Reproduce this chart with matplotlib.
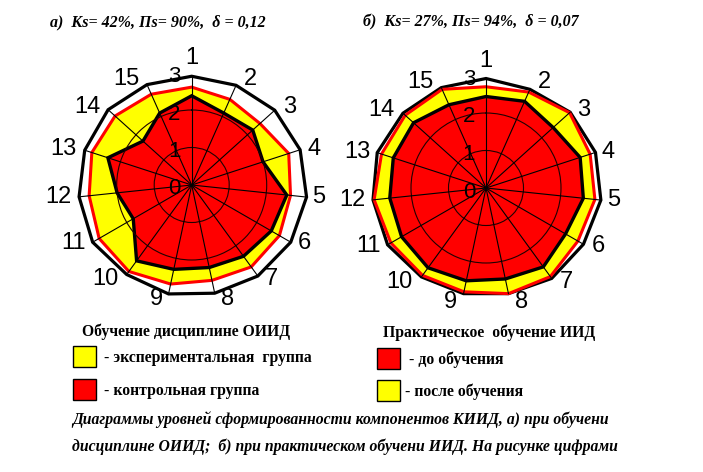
import numpy as np
import matplotlib.pyplot as plt
from matplotlib.patches import Rectangle
from matplotlib.transforms import offset_copy

# components 1..15, values are levels on the 0..3 scale
categories = [str(i) for i in range(1, 16)]
rings = [0, 1, 2, 3]

a_outer = [2.9, 2.91, 2.98, 3.04, 3.08, 3.05, 3.0, 2.95, 2.97, 2.95, 3.05, 3.02, 3.0, 3.0, 2.93]
a_exp = [2.61, 2.5, 2.45, 2.72, 2.65, 2.7, 2.7, 2.6, 2.7, 2.85, 2.85, 2.75, 2.8, 2.75, 2.65]
a_ctrl = [2.38, 2.1, 2.19, 2.0, 2.55, 2.45, 2.35, 2.25, 2.3, 2.5, 1.8, 2.0, 2.35, 1.75, 2.1]

b_outer = [2.92, 2.88, 3.02, 3.07, 3.08, 3.0, 2.98, 2.88, 2.88, 2.93, 3.03, 3.03, 3.05, 2.98, 2.93]
b_after = [2.7, 2.8, 3.0, 2.92, 2.92, 2.83, 2.92, 2.88, 2.83, 2.88, 2.93, 3.0, 2.93, 2.9, 2.88]
b_before = [2.44, 2.53, 2.41, 2.64, 2.61, 2.45, 2.6, 2.48, 2.53, 2.63, 2.6, 2.58, 2.6, 2.6, 2.43]

title_a = "а)  Кs= 42%, Пs= 90%,  δ = 0,12"
title_b = "б)  Кs= 27%, Пs= 94%,  δ = 0,07"

W, H = 703, 472
UNIT = 37.5  # pixels per scale unit
RMAX = 3.2
LAB_R = 3.1  # where the component numbers are anchored

fig = plt.figure(figsize=(W / 100, H / 100), dpi=100)
fig.patch.set_facecolor('white')


def px_rect(cx, cy, R):
    return [(cx - R) / W, (H - cy - R) / H, 2 * R / W, 2 * R / H]


def radar(cx, cy, outer, top, bottom):
    ax = fig.add_axes(px_rect(cx, cy, RMAX * UNIT), projection='polar')
    ax.set_theta_zero_location('N')
    ax.set_theta_direction(-1)
    ax.set_ylim(0, RMAX)
    ax.spines['polar'].set_visible(False)
    ax.patch.set_visible(False)
    theta = np.arange(len(categories)) * 2 * np.pi / len(categories)
    tc = np.append(theta, theta[0])

    def closed(v):
        return np.append(v, v[0])

    ax.fill(tc, closed(outer), facecolor='white', edgecolor='black', lw=2.3, zorder=1)
    ax.fill(tc, closed(top), facecolor='#ffff00', edgecolor='#ff0000', lw=2.2, zorder=1.1)
    ax.fill(tc, closed(bottom), facecolor='#ff0000', edgecolor='black', lw=2.4, zorder=1.2)

    ax.set_xticks([])
    ax.set_yticks([1, 2])
    ax.set_yticklabels([])
    ax.yaxis.grid(True, color='#200000', lw=0.8)
    for g in ax.yaxis.get_gridlines():
        g.set_zorder(1.5)

    for t, r in zip(theta, outer):
        ax.plot([t, t], [0, r], color='black', lw=0.8, zorder=1.6)

    for t, lab in zip(theta, categories):
        s = np.sin(t)
        ha = 'left' if s > 0.1 else ('right' if s < -0.1 else 'center')
        va = 'bottom' if abs(t) < 0.01 else 'center'
        tr = offset_copy(ax.transData, fig=fig, x=5 * np.sign(round(s, 1)),
                         y=0, units='dots')
        ax.text(t, LAB_R, lab, transform=tr, ha=ha, va=va, fontsize=17,
                family='Liberation Sans', clip_on=False)

    tr = offset_copy(ax.transData, fig=fig, x=-11, y=-4, units='dots')
    for r in rings:
        ax.text(0, r, str(r), transform=tr, ha='right', va='center',
                fontsize=16, family='Liberation Sans', zorder=3, clip_on=False)
    return ax


radar(191.7, 185, a_outer, a_exp, a_ctrl)
radar(486, 188, b_outer, b_after, b_before)


def ftext(x, y, s, **kw):
    fig.text(x / W, 1 - y / H, s, va='center', family='Liberation Serif', **kw)


ftext(50, 22, title_a, fontsize=11.5, weight='bold', style='italic')
ftext(363, 22, title_b, fontsize=11.5, weight='bold', style='italic')

# legend, left block
ftext(82, 332, "Обучение дисциплине ОИИД", fontsize=11.3, weight='bold')
ftext(104, 358, "- экспериментальная  группа", fontsize=11.3, weight='bold')
ftext(104, 391, "- контрольная группа", fontsize=11.3, weight='bold')
# legend, right block
ftext(383, 333, "Практическое  обучение ИИД", fontsize=11.3, weight='bold')
ftext(409, 360, "- до обучения", fontsize=11.3, weight='bold')
ftext(405, 392, "- после обучения", fontsize=11.3, weight='bold')

for x0, y0, c in [(73, 346, '#ffff00'), (73, 379, '#ff0000'),
                  (377, 348, '#ff0000'), (377, 380, '#ffff00')]:
    fig.patches.append(Rectangle((x0 / W, 1 - (y0 + 21) / H), 23 / W, 21 / H,
                                 transform=fig.transFigure, facecolor=c,
                                 edgecolor='black', lw=1.0))

ftext(72, 420, "Диаграммы уровней сформированности компонентов КИИД, а) при обучени",
      fontsize=11.3, weight='bold', style='italic')
ftext(72, 447, "дисциплине ОИИД;  б) при практическом обучени ИИД. На рисунке цифрами",
      fontsize=11.3, weight='bold', style='italic')

fig.savefig('out.png', dpi=100)
